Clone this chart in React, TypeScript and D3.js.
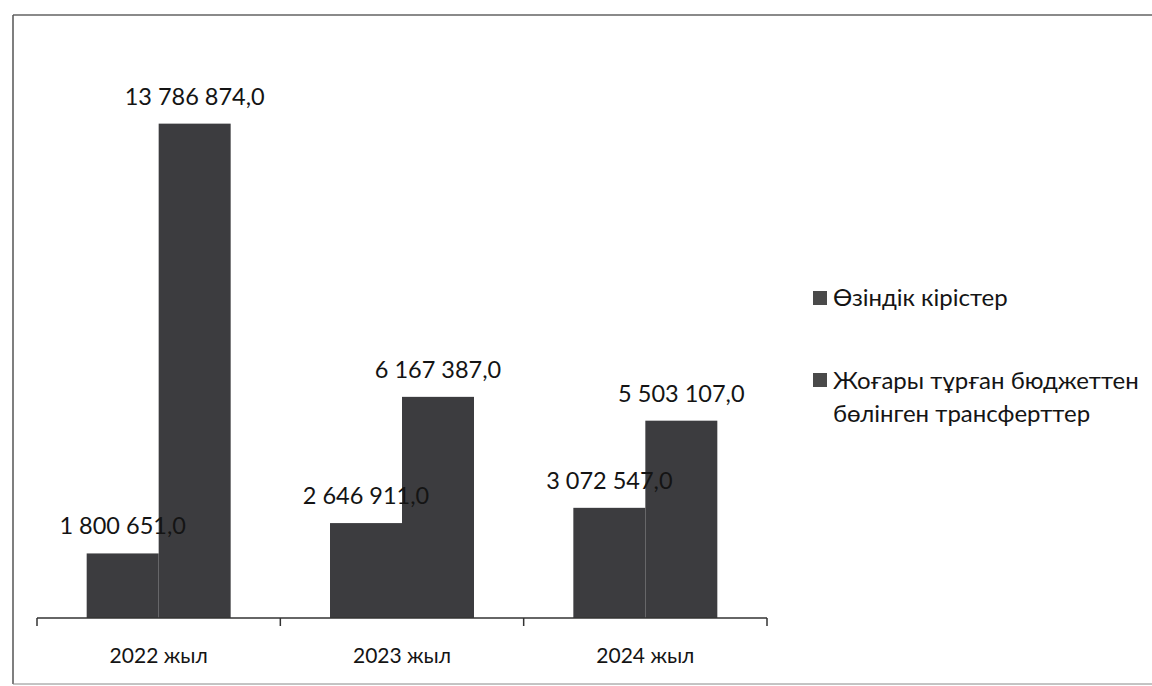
import React, { useEffect } from 'react'
import * as d3 from 'd3'

const years = ['2022 жыл', '2023 жыл', '2024 жыл']
const seriesNames = ['Өзіндік кірістер', 'Жоғары тұрған бюджеттен', 'бөлінген трансферттер']
const ownRevenue = [1800651.0, 2646911.0, 3072547.0]
const transfers = [13786874.0, 6167387.0, 5503107.0]

const W = 1152
const H = 686
const baseY = 618
const FONT = 'Lato, "Open Sans", sans-serif'

// "13 786 874,0"
const fmt = (v: number) => {
  const [int, dec] = v.toFixed(1).split('.')
  return int.replace(/\B(?=(\d{3})+(?!\d))/g, ' ') + ',' + dec
}

export default function App() {
  useEffect(() => {
    document.body.style.margin = '0'
    document.body.style.background = '#fff'
  }, [])

  const x0 = d3.scaleBand<string>().domain(years).range([37, 767]).padding(0)
  const x1 = d3
    .scaleBand<number>()
    .domain([0, 1])
    .range([0, x0.bandwidth()])
    .paddingInner(0)
    .paddingOuter(0.69)
  const y = d3.scaleLinear().domain([0, 14000000]).range([baseY, 116])

  const series = [ownRevenue, transfers]
  const barFill = '#3c3c3f'
  const ink = '#141414'

  const ticks = [...years.map(d => x0(d) as number), 767]

  return (
    <svg width={W} height={H} style={{ display: 'block' }}>
      <rect x={0} y={0} width={W} height={H} fill="#fff" />
      {/* outer frame */}
      <line x1={13} y1={15} x2={W} y2={15} stroke="#8a8a8a" strokeWidth={2} />
      <line x1={13} y1={15} x2={13} y2={684} stroke="#555" strokeWidth={1.5} />
      <line x1={13} y1={684} x2={W} y2={684} stroke="#888" strokeWidth={1} />

      {years.map((yr, i) => (
        <g key={yr} transform={`translate(${x0(yr)},0)`}>
          {series.map((s, k) => (
            <rect
              key={k}
              x={x1(k)}
              y={y(s[i])}
              width={x1.bandwidth()}
              height={baseY - y(s[i])}
              fill={barFill}
            />
          ))}
        </g>
      ))}

      {/* axis */}
      <line x1={37} y1={baseY} x2={767} y2={baseY} stroke="#333" strokeWidth={1.5} />
      {ticks.map((t, i) => (
        <line key={i} x1={t} y1={baseY} x2={t} y2={baseY + 8} stroke="#333" strokeWidth={1.5} />
      ))}
      {years.map(yr => (
        <text
          key={yr}
          x={(x0(yr) as number) + x0.bandwidth() / 2}
          y={663}
          textAnchor="middle"
          fontFamily={FONT}
          fontSize={21}
          fill={ink}
        >
          {yr}
        </text>
      ))}

      {/* value labels */}
      {years.map((yr, i) =>
        series.map((s, k) => (
          <text
            key={yr + k}
            x={(x0(yr) as number) + (x1(k) as number) + x1.bandwidth() / 2}
            y={y(s[i]) - 19}
            textAnchor="middle"
            fontFamily={FONT}
            fontSize={23.5}
            fill={ink}
          >
            {fmt(s[i])}
          </text>
        ))
      )}

      {/* legend */}
      <rect x={813} y={291} width={14} height={14} fill="#4a4a4a" />
      <text x={833} y={306} fontFamily={FONT} fontSize={24} fill={ink}>
        {seriesNames[0]}
      </text>
      <rect x={813} y={373} width={14} height={14} fill="#4a4a4a" />
      <text x={833} y={389} fontFamily={FONT} fontSize={24} fill={ink}>
        <tspan x={833}>{seriesNames[1]}</tspan>
        <tspan x={833} dy={33}>{seriesNames[2]}</tspan>
      </text>
    </svg>
  )
}
